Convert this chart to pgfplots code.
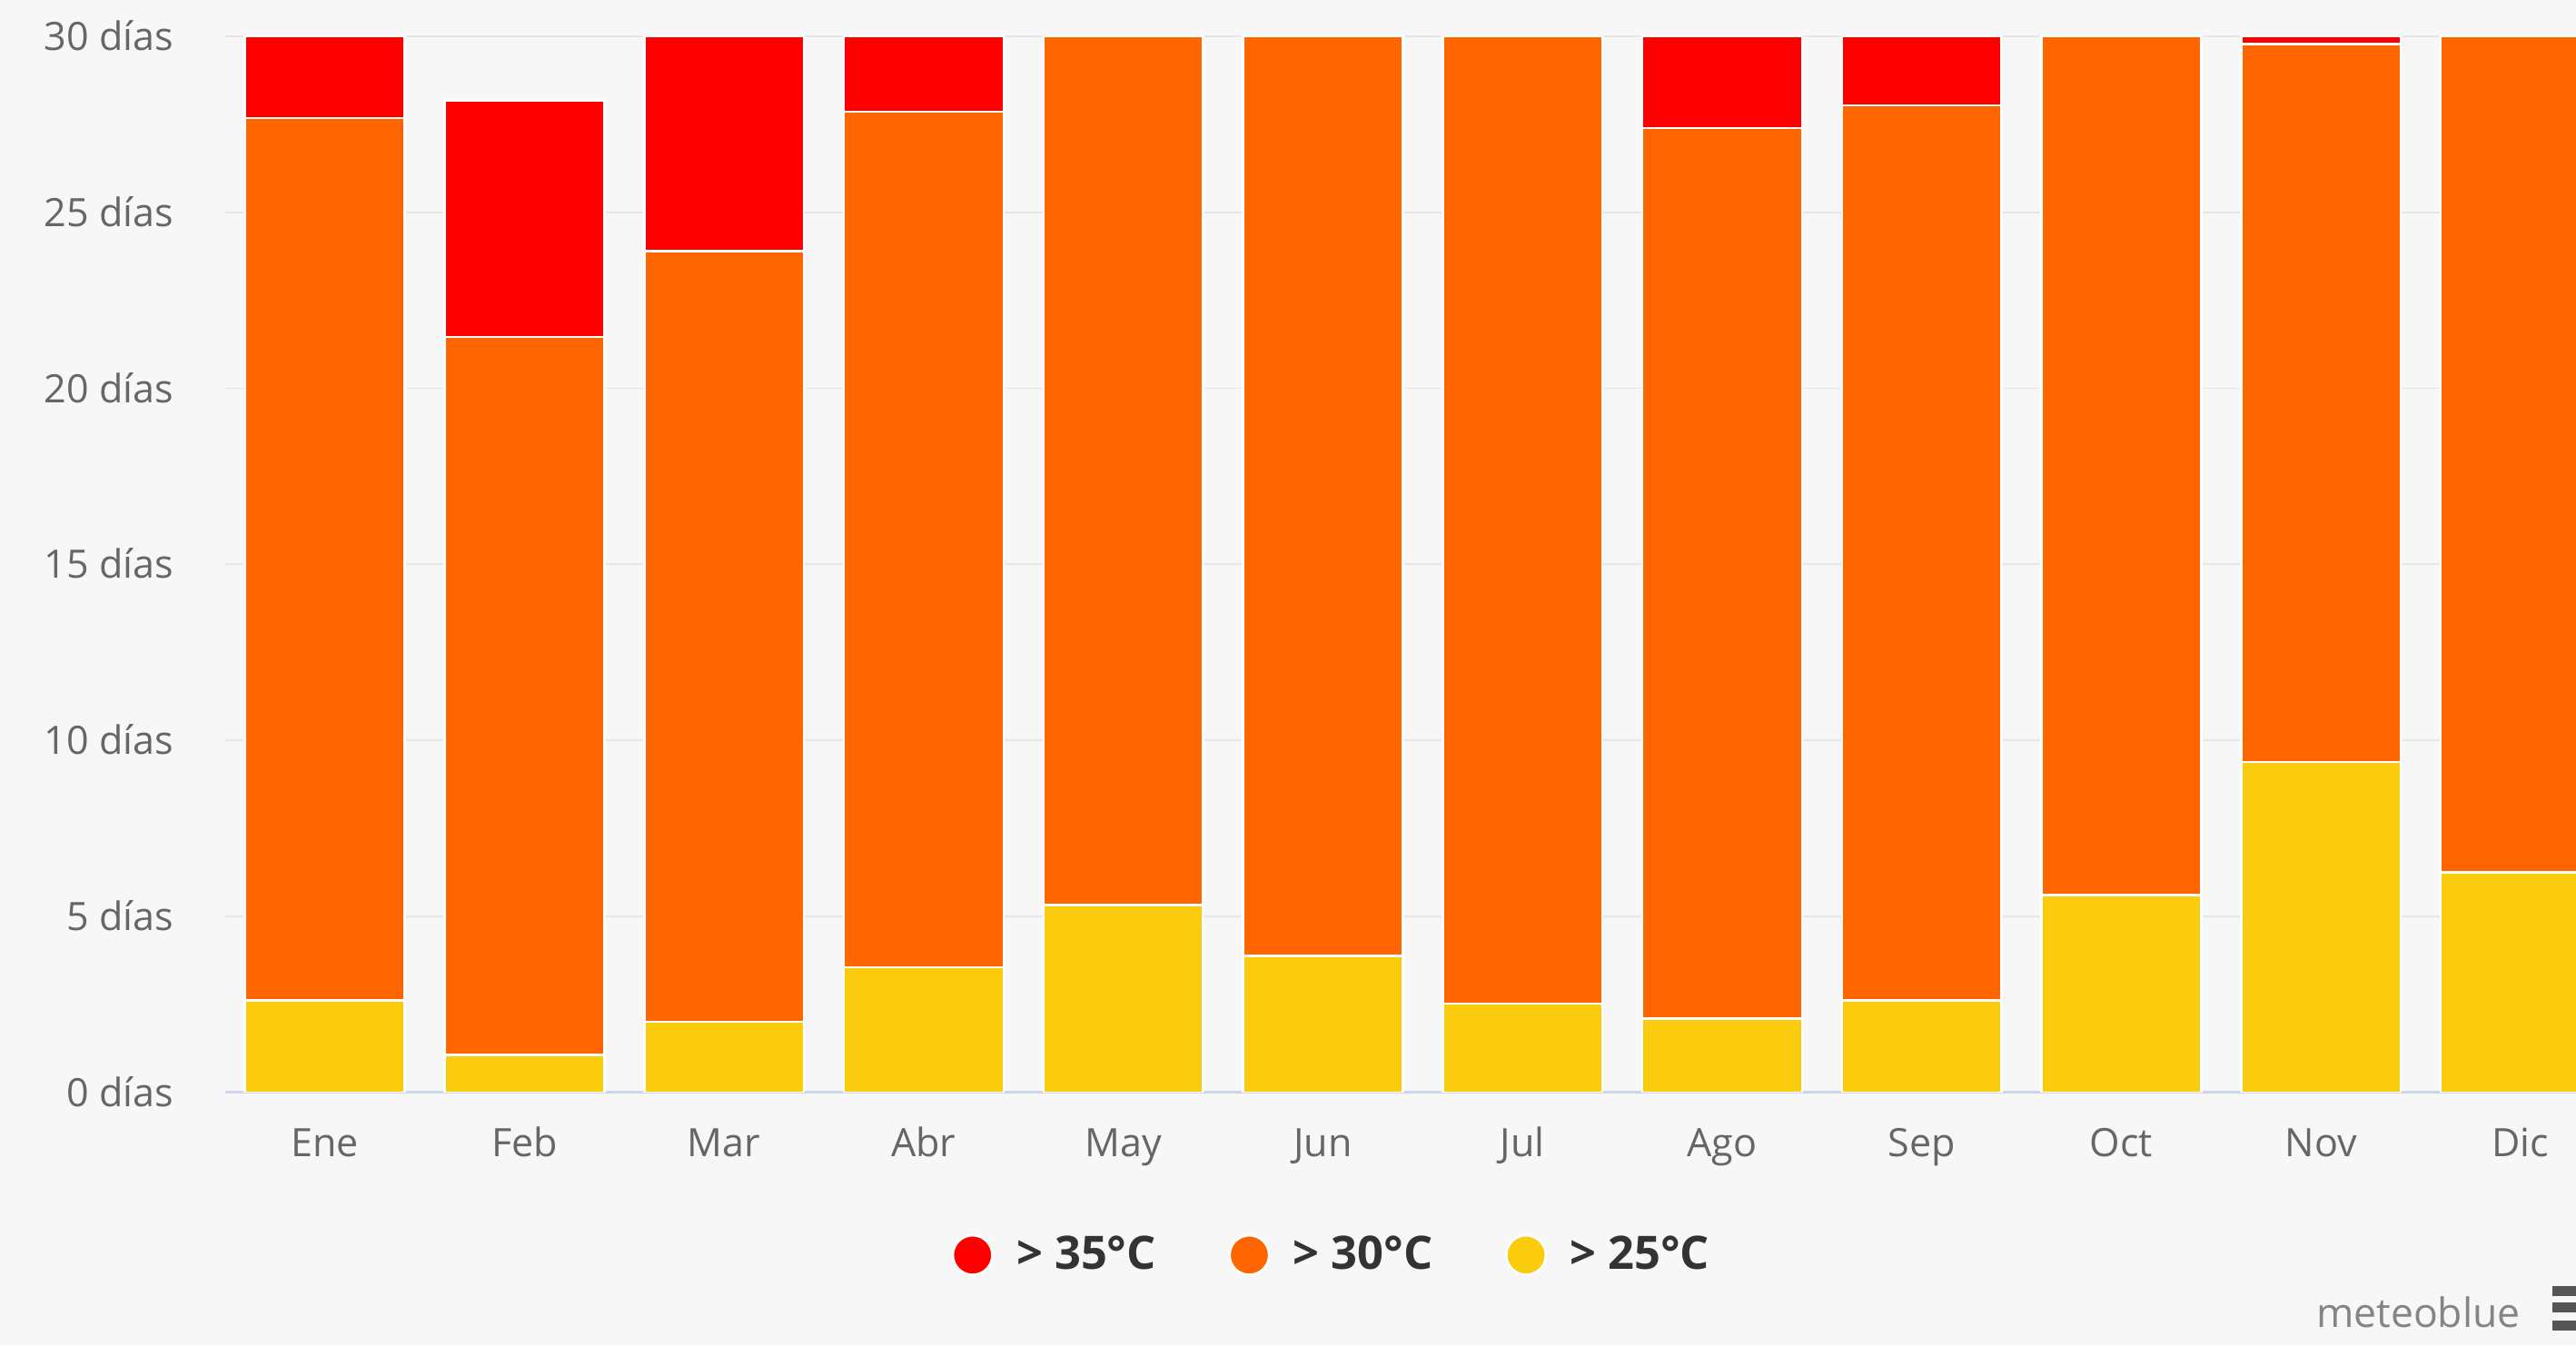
\documentclass[border=0pt]{standalone}
\usepackage{fontspec}
\setmainfont{Open Sans}
\usepackage{pgfplots}
\pgfplotsset{compat=1.18}
\definecolor{bg}{HTML}{F7F7F7}
\definecolor{cred}{HTML}{FF0000}
\definecolor{corange}{HTML}{FF6600}
\definecolor{cyellow}{HTML}{FBCB0E}
\definecolor{lbl}{HTML}{666666}
\definecolor{legtxt}{HTML}{333333}
\definecolor{gridc}{HTML}{E6E6E6}
\definecolor{axisc}{HTML}{CCD6EB}
\definecolor{wm}{HTML}{858585}
\definecolor{menu}{HTML}{555555}
\begin{document}
\begin{tikzpicture}
\fill[bg] (0,0) rectangle (784pt,409.5pt);
\begin{axis}[
  at={(68.5pt,77pt)}, anchor=south west,
  width=715.5pt, height=321.5pt, scale only axis,
  ybar stacked, bar width=0.8,
  xmin=-0.5, xmax=11.278, ymin=0, ymax=30,
  enlargelimits=false,
  axis line style={draw=none},
  tick style={draw=none},
  xtick={0,...,11},
  xticklabels={Ene,Feb,Mar,Abr,May,Jun,Jul,Ago,Sep,Oct,Nov,Dic},
  ytick={0,5,...,30},
  yticklabels={0 días,5 días,10 días,15 días,20 días,25 días,30 días},
  ymajorgrids, major grid style={draw=gridc, line width=0.5pt},
  extra y ticks={0}, extra y tick labels={},
  extra y tick style={grid=major, major grid style={draw=axisc, line width=0.8pt}},
  ticklabel style={font=\fontsize{11.9}{14}\selectfont, text=lbl},
  xticklabel style={anchor=base, inner sep=0pt, yshift=-19.5pt},
  yticklabel style={anchor=east, inner sep=0pt, xshift=-15.5pt, text height=8.6pt, text depth=0pt},
  legend style={draw=none, fill=none, at={(0.4717,-0.154)}, anchor=center,
    font=\fontsize{14}{16}\selectfont\bfseries, text=legtxt,
    /tikz/every odd column/.append style={column sep=5pt},
    /tikz/every even column/.append style={column sep=20pt}},
  legend columns=3,
  reverse legend,
  legend image code/.code={\fill[#1] (0pt,0pt) circle (6pt);},
]
\addplot[fill=cyellow, draw=white, line width=0.7pt] coordinates {
 (0,2.61) (1,1.07) (2,2.01) (3,3.55) (4,5.32) (5,3.87)
 (6,2.52) (7,2.10) (8,2.61) (9,5.60) (10,9.38) (11,6.25)};
\addplot[fill=corange, draw=white, line width=0.7pt] coordinates {
 (0,25.06) (1,20.39) (2,21.88) (3,24.30) (4,24.68) (5,26.13)
 (6,27.48) (7,25.29) (8,25.43) (9,24.40) (10,20.39) (11,23.75)};
\addplot[fill=cred, draw=white, line width=0.7pt] coordinates {
 (0,2.33) (1,6.72) (2,6.11) (3,2.15) (4,0) (5,0)
 (6,0) (7,2.61) (8,1.96) (9,0) (10,0.23) (11,0)};
\legend{> 25°C, > 30°C, > 35°C}
\end{axis}
\node[anchor=base, text=wm, font=\fontsize{12.3}{14}\selectfont] at (736pt,5.5pt) {meteoblue};
\fill[menu] (776.8pt,15pt) rectangle (784pt,18pt);
\fill[menu] (776.8pt,10pt) rectangle (784pt,13pt);
\fill[menu] (776.8pt,4.5pt) rectangle (784pt,7.5pt);
\pgfresetboundingbox
\path[use as bounding box] (0,0) rectangle (784pt,409.5pt);
\end{tikzpicture}
\end{document}
